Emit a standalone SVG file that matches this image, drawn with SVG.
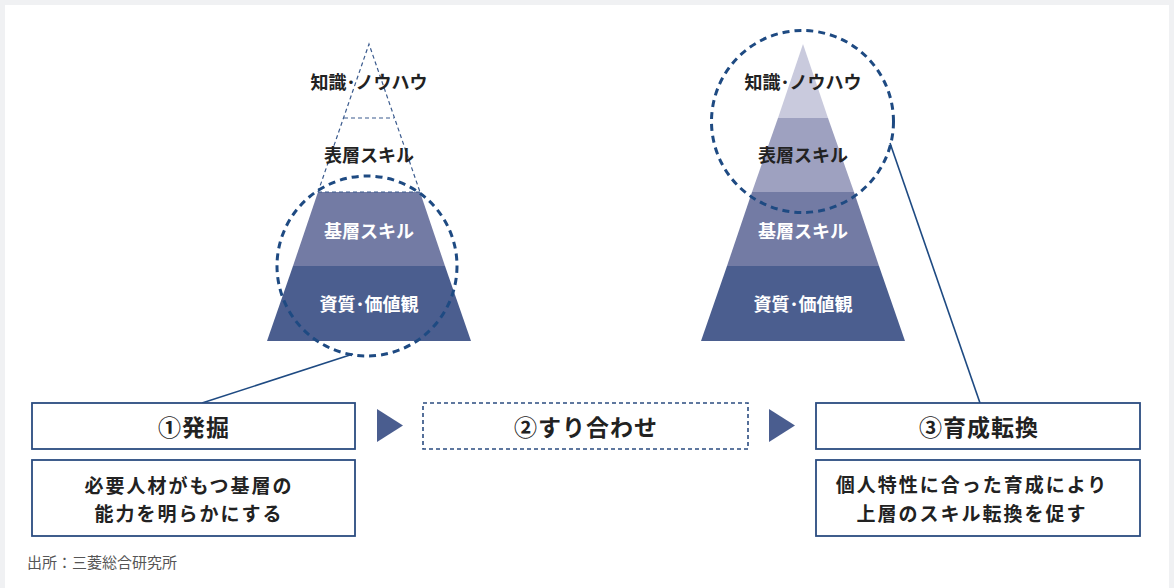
<svg xmlns="http://www.w3.org/2000/svg" width="1174" height="588" viewBox="0 0 1174 588">
<style>
.lbl{font-family:"Noto Sans CJK JP","Noto Sans",sans-serif;font-weight:bold;font-size:18px;text-anchor:middle;dominant-baseline:central}
.dark{fill:#222}
.white{fill:#fff}
.title{font-family:"Noto Sans CJK JP","Noto Sans",sans-serif;font-weight:bold;font-size:23px;letter-spacing:1px;text-anchor:middle;dominant-baseline:central;fill:#222}
.desc{font-family:"Noto Sans CJK JP","Noto Sans",sans-serif;font-weight:bold;font-size:19px;letter-spacing:2px;text-anchor:middle;dominant-baseline:central;fill:#222}
.box{fill:#fff;stroke:#2b4c80;stroke-width:1.8}
.dbox{fill:#fff;stroke:#2b4c80;stroke-width:1.6;stroke-dasharray:4 3}
.circ{fill:none;stroke:#1e4a82;stroke-width:3;stroke-dasharray:7 5}
.pdash{fill:none;stroke:#3b5b8e;stroke-width:1.2;stroke-dasharray:4 3}
.conn{stroke:#1e4a82;stroke-width:1.6;fill:none}
.tri{fill:#4a5d8f}
.l1{fill:#c9cadd}.l2{fill:#9ea1c0}.l3{fill:#737ba4}.l4{fill:#4b5e8f}
</style>
<rect width="1174" height="588" fill="#f0f1f3"/>
<rect x="5" y="5" width="1164" height="583" fill="#fff"/>

<g id="pyramid-left">
  <polygon class="l3" points="318,192 420,192 445,266 293,266"/>
  <polygon class="l4" points="293,266 445,266 471,341 267,341"/>
  <polyline class="pdash" points="318,192 369,44 420,192"/>
  <line class="pdash" x1="344" y1="118" x2="394" y2="118"/>
  <line class="pdash" x1="318" y1="192" x2="420" y2="192"/>
  <text class="lbl dark" x="369" y="81">知識･ノウハウ</text>
  <text class="lbl dark" x="369" y="154">表層スキル</text>
  <text class="lbl white" x="369" y="230">基層スキル</text>
  <text class="lbl white" x="369" y="303">資質･価値観</text>
</g>

<g id="pyramid-right">
  <polygon class="l1" points="803,44 828,118 778,118"/>
  <polygon class="l2" points="778,118 828,118 854,192 752,192"/>
  <polygon class="l3" points="752,192 854,192 879,266 727,266"/>
  <polygon class="l4" points="727,266 879,266 905,341 701,341"/>
  <text class="lbl dark" x="803" y="81">知識･ノウハウ</text>
  <text class="lbl dark" x="803" y="154">表層スキル</text>
  <text class="lbl white" x="803" y="230">基層スキル</text>
  <text class="lbl white" x="803" y="303">資質･価値観</text>
</g>

<g id="circle-left"><circle class="circ" cx="367" cy="266" r="90"/></g>
<g id="circle-right"><circle class="circ" cx="802.5" cy="121.5" r="91"/></g>

<g id="connectors">
  <line class="conn" x1="353" y1="354" x2="202" y2="403"/>
  <line class="conn" x1="890" y1="143" x2="980" y2="403"/>
  <polygon class="tri" points="377,409 403,425.5 377,442"/>
  <polygon class="tri" points="769,409 795,425.5 769,442"/>
</g>

<g id="step1">
  <rect class="box" x="32" y="403" width="323" height="46"/>
  <text class="title" x="194" y="426">①発掘</text>
</g>
<g id="step1-desc">
  <rect class="box" x="32" y="460" width="323" height="76"/>
  <text class="desc" x="189" y="484">必要人材がもつ基層の</text>
  <text class="desc" x="189" y="512">能力を明らかにする</text>
</g>
<g id="step2">
  <rect class="dbox" x="423" y="403" width="325" height="46"/>
  <text class="title" x="586" y="426">②すり合わせ</text>
</g>
<g id="step3">
  <rect class="box" x="816" y="403" width="324" height="46"/>
  <text class="title" x="979" y="426">③育成転換</text>
</g>
<g id="step3-desc">
  <rect class="box" x="816" y="460" width="324" height="76"/>
  <text class="desc" x="972" y="483">個人特性に合った育成により</text>
  <text class="desc" x="972" y="512">上層のスキル転換を促す</text>
</g>

<text x="27" y="561" style="font-family:'Noto Sans CJK JP','Noto Sans',sans-serif;font-size:15px;fill:#555;dominant-baseline:central">出所：三菱総合研究所</text>
</svg>
